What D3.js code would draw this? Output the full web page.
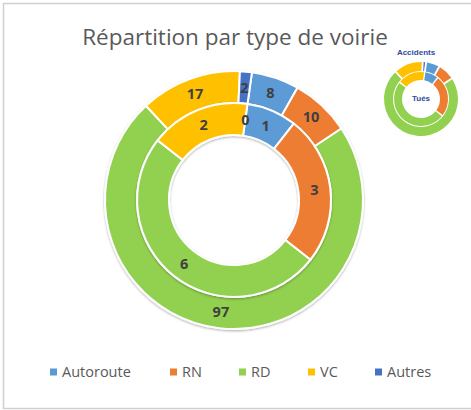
<!DOCTYPE html>
<html>
<head>
<meta charset="utf-8">
<script src="https://cdn.jsdelivr.net/npm/d3@7"></script>
<style>
  body { margin: 0; background: #fff; }
  svg { display: block; }
</style>
</head>
<body>
<div id="chart"></div>
<script>
// categories and series (outer ring = Accidents, inner ring = Tués)
var categories = ["Autoroute", "RN", "RD", "VC", "Autres"];
var accidents = [8, 10, 97, 17, 2];
var tues = [1, 3, 6, 2, 0];
var colors = ["#5b9bd5", "#ed7d31", "#92d050", "#ffc000", "#4472c4"];
var title = "Répartition par type de voirie";

var width = 471, height = 410;
var cx = 234, cy = 200;
var rOut = 129, rMid = 97, rIn = 65;
var firstAngle = 8 * Math.PI / 180;

var svg = d3.select("#chart").append("svg")
    .attr("width", width)
    .attr("height", height);

// soft shadow like the office chart
var defs = svg.append("defs");
var f = defs.append("filter").attr("id", "shadow")
    .attr("x", "-10%").attr("y", "-10%").attr("width", "120%").attr("height", "120%");
f.append("feDropShadow").attr("dx", 0).attr("dy", 1.2).attr("stdDeviation", 1)
    .attr("flood-color", "#000").attr("flood-opacity", 0.3);

// chart area border
svg.append("rect")
    .attr("x", 3.5).attr("y", 3.5)
    .attr("width", 480).attr("height", 405)
    .attr("fill", "#fff")
    .attr("stroke", "#d0d0d0")
    .attr("stroke-width", 1.5);

svg.append("text")
    .attr("x", 235).attr("y", 45)
    .attr("text-anchor", "middle")
    .style("font-family", "'Open Sans', 'Liberation Sans', sans-serif")
    .style("font-size", "22.5px")
    .style("fill", "#595959")
    .text(title);

var color = d3.scaleOrdinal().domain(categories).range(colors);

var pie = d3.pie()
    .sort(null)
    .value(function (d) { return d.v; })
    .startAngle(firstAngle)
    .endAngle(firstAngle + 2 * Math.PI);

function ringData(values) {
    return pie(categories.map(function (c, i) { return { cat: c, v: values[i] }; }));
}

var rings = [
    { data: ringData(accidents), inner: rMid, outer: rOut },
    { data: ringData(tues), inner: rIn, outer: rMid }
];

var g = svg.append("g").attr("transform", "translate(" + cx + "," + cy + ")");

rings.forEach(function (ring) {
    var arc = d3.arc().innerRadius(ring.inner).outerRadius(ring.outer);
    var rg = g.append("g").attr("filter", "url(#shadow)");
    rg.selectAll("path")
        .data(ring.data.filter(function (d) { return d.value > 0; }))
        .enter().append("path")
        .attr("d", arc)
        .attr("fill", function (d) { return color(d.data.cat); })
        .attr("stroke", "#fff")
        .attr("stroke-width", 2);
});

// data labels
rings.forEach(function (ring) {
    var arc = d3.arc().innerRadius(ring.inner).outerRadius(ring.outer);
    g.append("g").selectAll("text")
        .data(ring.data)
        .enter().append("text")
        .attr("transform", function (d) { return "translate(" + arc.centroid(d) + ")"; })
        .attr("text-anchor", "middle")
        .attr("dy", "0.36em")
        .style("font-family", "'Open Sans', 'Liberation Sans', sans-serif")
        .style("font-size", "14.5px")
        .style("font-weight", "bold")
        .style("fill", "#404040")
        .text(function (d) { return d.data.v; });
});

// small thumbnail doughnut (top right)
var mini = svg.append("g").attr("transform", "translate(421,99)");
[{ data: ringData(accidents), inner: 28, outer: 37 },
 { data: ringData(tues), inner: 19, outer: 27 }].forEach(function (ring) {
    var arc = d3.arc().innerRadius(ring.inner).outerRadius(ring.outer).padAngle(0.04);
    mini.selectAll(null)
        .data(ring.data.filter(function (d) { return d.value > 0; }))
        .enter().append("path")
        .attr("d", arc)
        .attr("fill", function (d) { return color(d.data.cat); });
});
mini.append("text")
    .attr("x", -5).attr("y", -44)
    .attr("text-anchor", "middle")
    .style("font-family", "'Liberation Sans', sans-serif")
    .style("font-size", "8px").style("font-weight", "bold")
    .style("fill", "#2e4a9e")
    .text("Accidents");
mini.append("text")
    .attr("x", 0).attr("y", 2)
    .attr("text-anchor", "middle")
    .style("font-family", "'Liberation Sans', sans-serif")
    .style("font-size", "8px").style("font-weight", "bold")
    .style("fill", "#2e4a9e")
    .text("Tués");

// legend
var legendX = [50, 170, 239, 308, 375];
var legend = svg.append("g").attr("transform", "translate(0,372)");
var li = legend.selectAll("g")
    .data(categories)
    .enter().append("g")
    .attr("transform", function (d, i) { return "translate(" + legendX[i] + ",0)"; });
li.append("rect")
    .attr("x", 0).attr("y", -3.5)
    .attr("width", 7).attr("height", 7)
    .attr("fill", function (d) { return color(d); });
li.append("text")
    .attr("x", 12).attr("dy", "0.35em")
    .style("font-family", "'Open Sans', 'Liberation Sans', sans-serif")
    .style("font-size", "14.5px")
    .style("fill", "#595959")
    .text(function (d) { return d; });
</script>
</body>
</html>
